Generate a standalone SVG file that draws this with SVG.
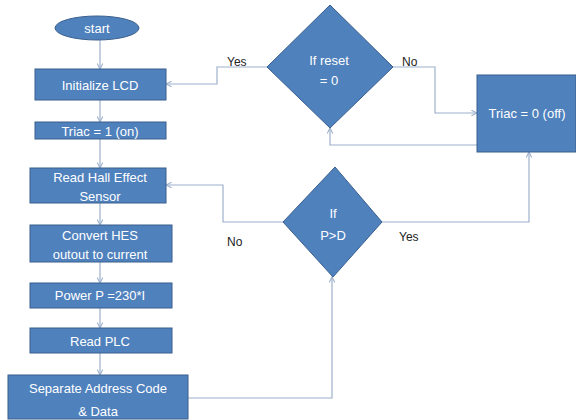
<svg xmlns="http://www.w3.org/2000/svg" width="576" height="420" viewBox="0 0 576 420">
<defs>
<style>
.n{fill:#4F81BD;stroke:#3A5F8E;stroke-width:1}
.t{font-family:"Liberation Sans",Arial,sans-serif;font-size:13px;fill:#fff;text-anchor:middle}
.l{font-family:"Liberation Sans",Arial,sans-serif;font-size:12px;fill:#222}
.c{fill:none;stroke:#9DB0CC;stroke-width:1.2;marker-end:url(#a)}
</style>
<marker id="a" viewBox="0 0 10 10" refX="9" refY="5" markerWidth="7" markerHeight="7" orient="auto" markerUnits="userSpaceOnUse">
<path d="M1,1 L9,5 L1,9" fill="none" stroke="#9DB0CC" stroke-width="1.5"/>
</marker>
</defs>
<rect width="576" height="420" fill="#fff"/>
<g id="connectors">
<path class="c" d="M100,40 V69"/>
<path class="c" d="M100,100 V122"/>
<path class="c" d="M100,139 V168"/>
<path class="c" d="M100,203 V225"/>
<path class="c" d="M100,262 V283"/>
<path class="c" d="M100,308 V328"/>
<path class="c" d="M100,353 V375"/>
<path class="c" d="M188,398 H332 V277"/>
<path class="c" d="M283,222 H223 V185 H166"/>
<path class="c" d="M382,222 H529 V152"/>
<path class="c" d="M267,67 H217 V84 H166"/>
<path class="c" d="M393,67 H435 V113 H477"/>
<path class="c" d="M477,145 H330 V128"/>
</g>
<g id="start"><ellipse class="n" cx="97" cy="28" rx="42" ry="12"/><text class="t" x="97" y="33">start</text></g>
<g id="init"><rect class="n" x="35" y="69" width="131" height="31"/><text class="t" x="100" y="90">Initialize LCD</text></g>
<g id="triac1"><rect class="n" x="35" y="122" width="131" height="17"/><text class="t" x="100" y="135.5">Triac = 1 (on)</text></g>
<g id="readhes"><rect class="n" x="30" y="168" width="136" height="35"/><text class="t" x="100" y="182">Read  Hall Effect</text><text class="t" x="100" y="201">Sensor</text></g>
<g id="convert"><rect class="n" x="30" y="225" width="142" height="37"/><text class="t" x="100" y="240">Convert  HES</text><text class="t" x="100" y="259">outout  to current</text></g>
<g id="power"><rect class="n" x="30" y="283" width="142" height="25"/><text class="t" x="100" y="300">Power P =230*I</text></g>
<g id="readplc"><rect class="n" x="30" y="328" width="142" height="25"/><text class="t" x="100" y="346">Read PLC</text></g>
<g id="separate"><rect class="n" x="8" y="375" width="180" height="44"/><text class="t" x="98" y="393">Separate Address Code</text><text class="t" x="98" y="416">&amp; Data</text></g>
<g id="reset"><polygon class="n" points="330,5 393,67 330,128 267,67"/><text class="t" x="329" y="65">If reset</text><text class="t" x="329" y="85">= 0</text></g>
<g id="triac0"><rect class="n" x="477" y="75" width="99" height="77"/><text class="t" x="527" y="118">Triac = 0 (off)</text></g>
<g id="pd"><polygon class="n" points="335,167 382,222 333,277 283,222"/><text class="t" x="333" y="218">If</text><text class="t" x="333" y="240">P&gt;D</text></g>
<g id="labels">
<text class="l" x="227" y="66">Yes</text>
<text class="l" x="402" y="66">No</text>
<text class="l" x="227" y="246">No</text>
<text class="l" x="399" y="241">Yes</text>
</g>
</svg>
